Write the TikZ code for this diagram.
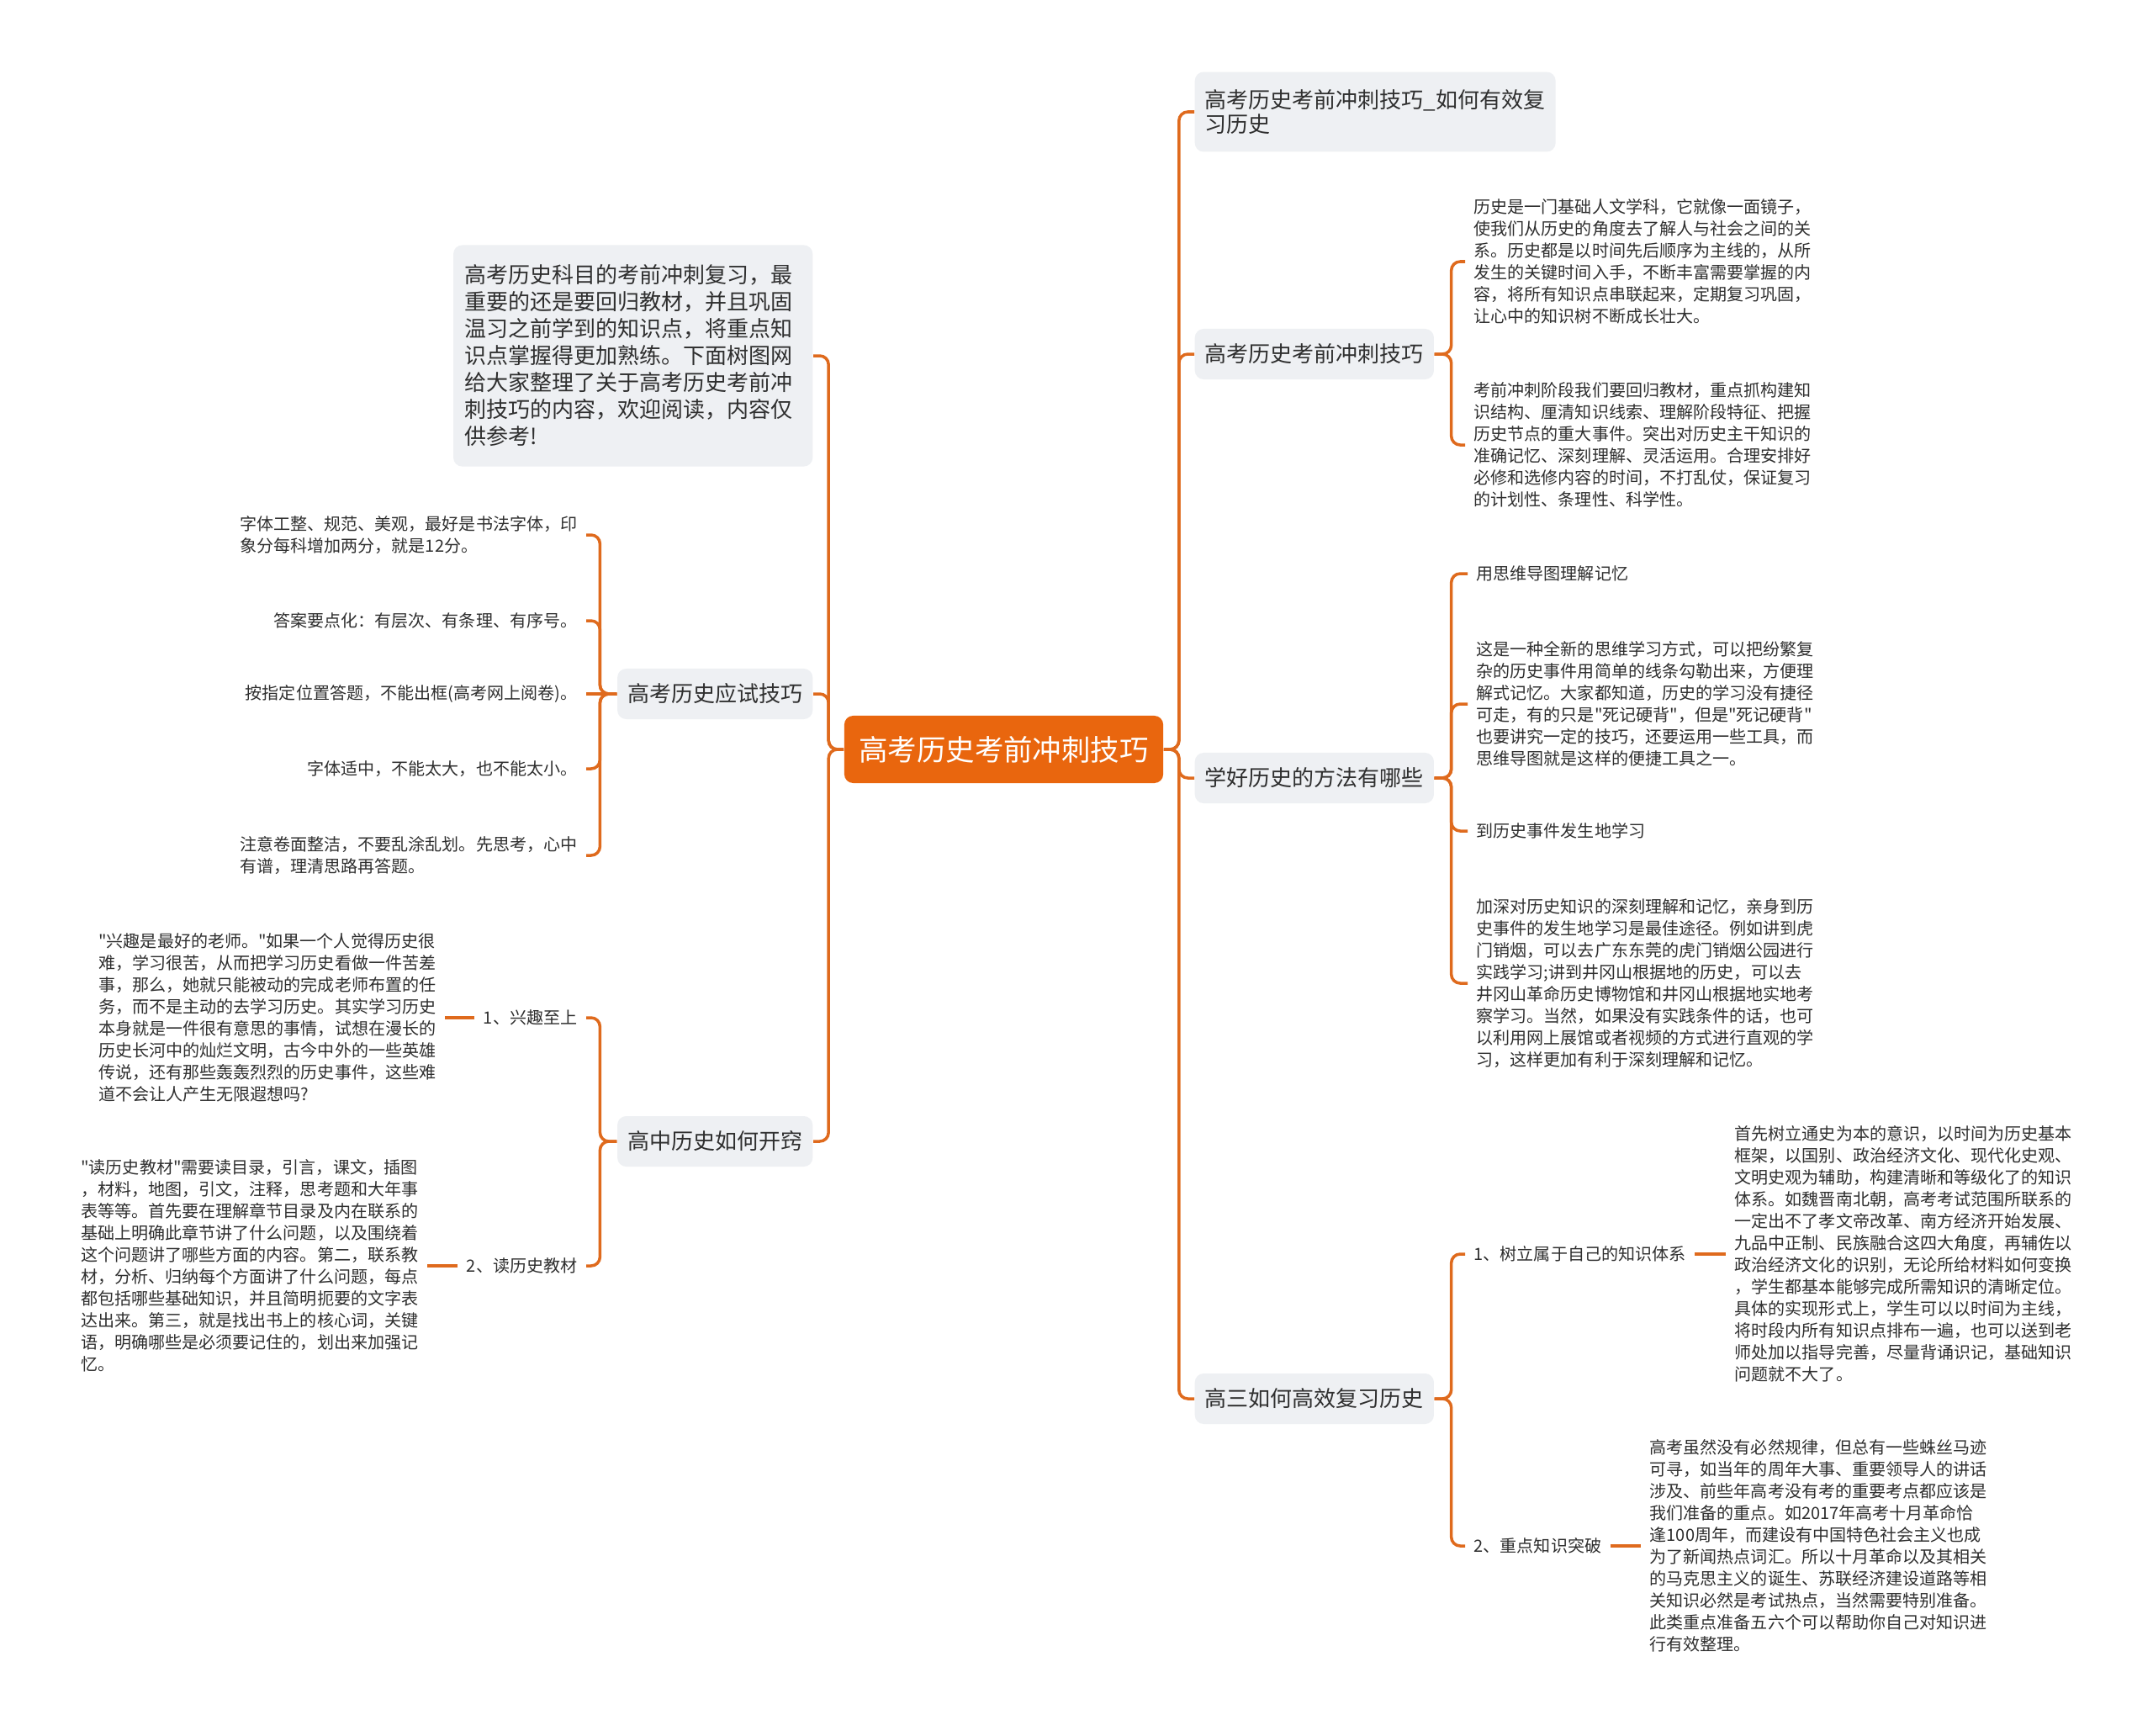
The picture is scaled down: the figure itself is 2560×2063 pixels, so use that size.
\documentclass[tikz,border=0pt]{standalone}
\usepackage{fontspec}
\setmainfont{Noto Sans CJK SC}[Ligatures=TeXOff]
\usepackage{tikz}
\usetikzlibrary{positioning}
\definecolor{hotorange}{HTML}{E9660E}
\definecolor{lnorange}{HTML}{DF6A1D}
\definecolor{ltgray}{HTML}{EEF0F3}
\definecolor{dktext}{HTML}{2F2F2F}

\begin{document}
\begin{tikzpicture}[
    x=0.01cm, y=-0.01cm,
    root/.style={
        fill=hotorange, rounded corners=3pt, text=white,
        minimum width=3.79cm, minimum height=0.8cm, inner sep=0pt,
        font=\fontsize{9.8pt}{12pt}\selectfont
    },
    topic/.style={
        fill=ltgray, rounded corners=3pt, text=dktext,
        minimum height=0.6cm, inner xsep=0.12cm, inner ysep=0.15cm,
        align=left, font=\fontsize{7.4pt}{8.2pt}\selectfont
    },
    leaf/.style={
        text=dktext, inner xsep=0.1cm, inner ysep=0.04cm,
        align=left, font=\fontsize{5.7pt}{7.4pt}\selectfont
    },
    link/.style={draw=lnorange, line width=1pt, rounded corners=3pt}
]

\fill[white] (0,0) rectangle (2560,2063);
\useasboundingbox (0,0) rectangle (2560,2063);

% --- central topic ---
\node[root] (ctr) at (1193.5, 891) {高考历史考前冲刺技巧};

% --- left topics ---
\node[topic, anchor=east, text width=4.0cm, inner xsep=0.135cm,
      minimum height=2.63cm, font=\fontsize{7.4pt}{9.1pt}\selectfont] (intro) at (967, 423) {%
    高考历史科目的考前冲刺复习，最\\
    重要的还是要回归教材，并且巩固\\
    温习之前学到的知识点，将重点知\\
    识点掌握得更加熟练。下面树图网\\
    给大家整理了关于高考历史考前冲\\
    刺技巧的内容，欢迎阅读，内容仅\\
    供参考!};
\node[topic, anchor=east] (ys) at (967, 825) {高考历史应试技巧};
\node[topic, anchor=east] (kq) at (967, 1357) {高中历史如何开窍};

% --- right topics ---
\node[topic, anchor=west, inner ysep=0.21cm] (r1) at (1420, 133) {高考历史考前冲刺技巧\_如何有效复\\习历史};
\node[topic, anchor=west] (r2) at (1420, 421) {高考历史考前冲刺技巧};
\node[topic, anchor=west] (r3) at (1420, 925) {学好历史的方法有哪些};
\node[topic, anchor=west] (r4) at (1420, 1663) {高三如何高效复习历史};

% --- exam tips (left) ---
\node[leaf, anchor=east] (a1) at (697, 636) {%
    字体工整、规范、美观，最好是书法字体，印\\
    象分每科增加两分，就是12分。};
\node[leaf, anchor=east] (a2) at (697, 738) {答案要点化：有层次、有条理、有序号。};
\node[leaf, anchor=east] (a3) at (697, 825) {按指定位置答题，不能出框(高考网上阅卷)。};
\node[leaf, anchor=east] (a4) at (697, 914) {字体适中，不能太大，也不能太小。};
\node[leaf, anchor=east] (a5) at (697, 1017) {%
    注意卷面整洁，不要乱涂乱划。先思考，心中\\
    有谱，理清思路再答题。};

% --- how to get it (left) ---
\node[leaf, anchor=east] (k1) at (697, 1210) {1、兴趣至上};
\node[leaf, anchor=east] (k2) at (697, 1505) {2、读历史教材};
\node[leaf, anchor=east] (d1) at (529, 1210) {%
    "兴趣是最好的老师。"如果一个人觉得历史很\\
    难，学习很苦，从而把学习历史看做一件苦差\\
    事，那么，她就只能被动的完成老师布置的任\\
    务，而不是主动的去学习历史。其实学习历史\\
    本身就是一件很有意思的事情，试想在漫长的\\
    历史长河中的灿烂文明，古今中外的一些英雄\\
    传说，还有那些轰轰烈烈的历史事件，这些难\\
    道不会让人产生无限遐想吗?};
\node[leaf, anchor=east] (d2) at (508, 1505) {%
    "读历史教材"需要读目录，引言，课文，插图\\
    ，材料，地图，引文，注释，思考题和大年事\\
    表等等。首先要在理解章节目录及内在联系的\\
    基础上明确此章节讲了什么问题，以及围绕着\\
    这个问题讲了哪些方面的内容。第二，联系教\\
    材，分析、归纳每个方面讲了什么问题，每点\\
    都包括哪些基础知识，并且简明扼要的文字表\\
    达出来。第三，就是找出书上的核心词，关键\\
    语，明确哪些是必须要记住的，划出来加强记\\
    忆。};

% --- sprint tips (right) ---
\node[leaf, anchor=west] (c1) at (1742, 311) {%
    历史是一门基础人文学科，它就像一面镜子，\\
    使我们从历史的角度去了解人与社会之间的关\\
    系。历史都是以时间先后顺序为主线的，从所\\
    发生的关键时间入手，不断丰富需要掌握的内\\
    容，将所有知识点串联起来，定期复习巩固，\\
    让心中的知识树不断成长壮大。};
\node[leaf, anchor=west] (c2) at (1742, 529) {%
    考前冲刺阶段我们要回归教材，重点抓构建知\\
    识结构、厘清知识线索、理解阶段特征、把握\\
    历史节点的重大事件。突出对历史主干知识的\\
    准确记忆、深刻理解、灵活运用。合理安排好\\
    必修和选修内容的时间，不打乱仗，保证复习\\
    的计划性、条理性、科学性。};

% --- study methods (right) ---
\node[leaf, anchor=west] (m1) at (1745, 682) {用思维导图理解记忆};
\node[leaf, anchor=west] (m2) at (1745, 837) {%
    这是一种全新的思维学习方式，可以把纷繁复\\
    杂的历史事件用简单的线条勾勒出来，方便理\\
    解式记忆。大家都知道，历史的学习没有捷径\\
    可走，有的只是"死记硬背"，但是"死记硬背"\\
    也要讲究一定的技巧，还要运用一些工具，而\\
    思维导图就是这样的便捷工具之一。};
\node[leaf, anchor=west] (m3) at (1745, 988) {到历史事件发生地学习};
\node[leaf, anchor=west] (m4) at (1745, 1169) {%
    加深对历史知识的深刻理解和记忆，亲身到历\\
    史事件的发生地学习是最佳途径。例如讲到虎\\
    门销烟，可以去广东东莞的虎门销烟公园进行\\
    实践学习;讲到井冈山根据地的历史，可以去\\
    井冈山革命历史博物馆和井冈山根据地实地考\\
    察学习。当然，如果没有实践条件的话，也可\\
    以利用网上展馆或者视频的方式进行直观的学\\
    习，这样更加有利于深刻理解和记忆。};

% --- senior year review (right) ---
\node[leaf, anchor=west] (l1) at (1742, 1491) {1、树立属于自己的知识体系};
\node[leaf, anchor=west] (l2) at (1742, 1838) {2、重点知识突破};
\node[leaf, anchor=west] (h1) at (2052, 1491) {%
    首先树立通史为本的意识，以时间为历史基本\\
    框架，以国别、政治经济文化、现代化史观、\\
    文明史观为辅助，构建清晰和等级化了的知识\\
    体系。如魏晋南北朝，高考考试范围所联系的\\
    一定出不了孝文帝改革、南方经济开始发展、\\
    九品中正制、民族融合这四大角度，再辅佐以\\
    政治经济文化的识别，无论所给材料如何变换\\
    ，学生都基本能够完成所需知识的清晰定位。\\
    具体的实现形式上，学生可以以时间为主线，\\
    将时段内所有知识点排布一遍，也可以送到老\\
    师处加以指导完善，尽量背诵识记，基础知识\\
    问题就不大了。};
\node[leaf, anchor=west] (h2) at (1951, 1838) {%
    高考虽然没有必然规律，但总有一些蛛丝马迹\\
    可寻，如当年的周年大事、重要领导人的讲话\\
    涉及、前些年高考没有考的重要考点都应该是\\
    我们准备的重点。如2017年高考十月革命恰\\
    逢100周年，而建设有中国特色社会主义也成\\
    为了新闻热点词汇。所以十月革命以及其相关\\
    的马克思主义的诞生、苏联经济建设道路等相\\
    关知识必然是考试热点，当然需要特别准备。\\
    此类重点准备五六个可以帮助你自己对知识进\\
    行有效整理。};

% --- center -> topics ---
\foreach \t in {intro, ys, kq} {
    \draw[link] (ctr.west) -- ++(-18,0) |- (\t.east);
}
\foreach \t in {r1, r2, r3, r4} {
    \draw[link] (ctr.east) -- ++(18,0) |- (\t.west);
}

% --- topics -> leaves ---
\foreach \c in {a1, a2, a4, a5} {
    \draw[link] (ys.west) -- ++(-20,0) |- (\c.east);
}
\draw[link] (ys.west) -- (a3.east);
\foreach \c in {k1, k2} {
    \draw[link] (kq.west) -- ++(-20,0) |- (\c.east);
}
\draw[link] (k1.west) -- (d1.east);
\draw[link] (k2.west) -- (d2.east);
\foreach \c in {c1, c2} {
    \draw[link] (r2.east) -- ++(20,0) |- (\c.west);
}
\foreach \c in {m1, m2, m3, m4} {
    \draw[link] (r3.east) -- ++(20,0) |- (\c.west);
}
\foreach \c in {l1, l2} {
    \draw[link] (r4.east) -- ++(20,0) |- (\c.west);
}
\draw[link] (l1.east) -- (h1.west);
\draw[link] (l2.east) -- (h2.west);

\end{tikzpicture}
\end{document}
